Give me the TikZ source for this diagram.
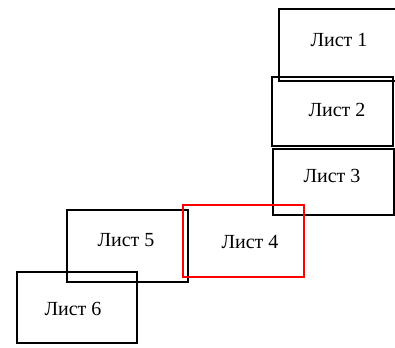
\documentclass[tikz,border=0pt]{standalone}
\usepackage{fontspec}
\setmainfont{Liberation Serif}
\usetikzlibrary{positioning}

\begin{document}
\begin{tikzpicture}[x=0.75pt, y=-0.75pt,
    sheet/.style={draw=black, line width=1.5pt},
    marked/.style={draw=red, line width=1.2pt},
    tag/.style={font=\fontsize{15}{18}\selectfont, inner sep=0pt}]

  \useasboundingbox (0,0) rectangle (395,347);
  \clip (0,0) rectangle (395,347);

  %--- Right column: sheets 1, 2, 3
  \draw[sheet] (279,9)   rectangle (400,81);
  \node[tag] (s1) at (339,40)  {Лист 1};

  \draw[sheet] (272,77)  rectangle (393,146);
  \node[tag] (s2) at (337,110) {Лист 2};

  \draw[sheet] (273,149) rectangle (394,215);
  \node[tag] (s3) at (332,176) {Лист 3};

  %--- Lower row: sheets 5, 6
  \draw[sheet] (67,210)  rectangle (188,282);
  \node[tag] (s5) at (126,240) {Лист 5};

  \draw[sheet] (17,272)  rectangle (137,343);
  \node[tag] (s6) at (73,309)  {Лист 6};

  %--- Highlighted sheet 4
  \draw[marked] (183,205) rectangle (304,277);
  \node[tag] (s4) at (250,242) {Лист 4};

\end{tikzpicture}
\end{document}
